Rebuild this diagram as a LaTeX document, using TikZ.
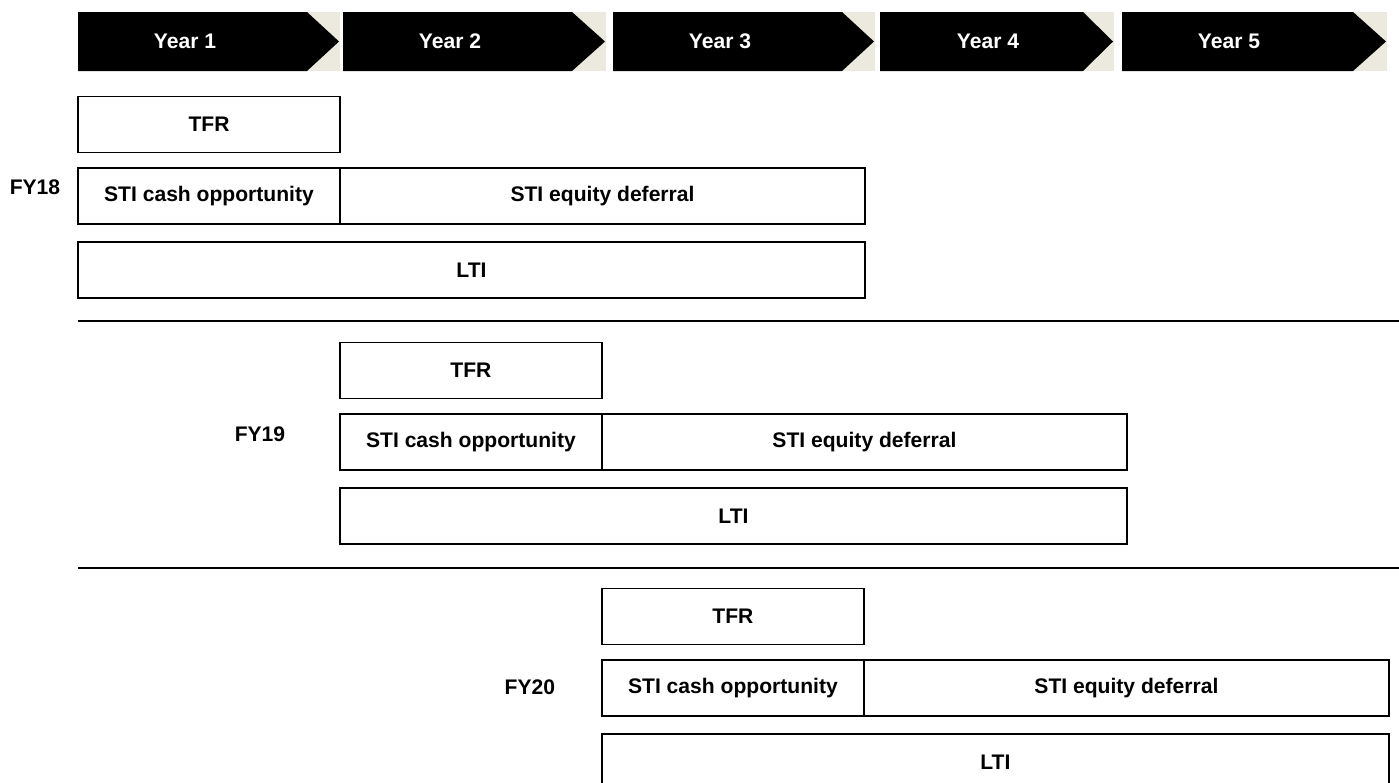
\documentclass[tikz,border=0pt]{standalone}
\usepackage{fontspec}
\setmainfont{Liberation Sans}
\usetikzlibrary{positioning}

\definecolor{tipbeige}{RGB}{236,233,223}

\tikzset{
  yearlbl/.style={text=white,font=\fontsize{12}{14}\selectfont\bfseries},
  paybox/.style={draw,line width=1pt,inner sep=0pt,outer sep=0pt,
    minimum height=1.12cm,font=\fontsize{12}{14}\selectfont\bfseries},
  fylbl/.style={font=\fontsize{12}{14}\selectfont\bfseries}
}

\begin{document}
\begin{tikzpicture}[x=0.02cm,y=-0.02cm]
  \useasboundingbox (0,0) rectangle (1399,782);
  % year chevrons: start / body end / tip / label centre
  \foreach \n/\s/\e/\t/\c in {1/78/307/339/185, 2/343/572/605/450,
      3/613/842/874/720, 4/880/1083/1113/988, 5/1122/1353/1386/1229}{
    \fill[tipbeige] (\e,12) rectangle (\t+1,71);
    \fill[black] (\s,12) -- (\e,12) -- (\t,41.5) -- (\e,71) -- (\s,71) -- cycle;
    \node[yearlbl] (year\n) at (\c,41.5) {Year \n};
  }
  % FY18
  \begin{scope}
    \node[paybox,minimum width=5.24cm] (tfr18) at (209,124.5) {TFR};
    \node[paybox,minimum width=5.24cm] (cash18) at (209,196) {STI cash opportunity};
    \node[paybox,minimum width=10.5cm] (defer18) at (602.5,196) {STI equity deferral};
    \node[paybox,minimum width=15.74cm] (lti18) at (471.5,270) {LTI};
    \node[fylbl] (fy18) at (35,187) {FY18};
  \end{scope}
  \draw[line width=1pt] (78,321) -- (1399,321);
  % FY19
  \begin{scope}[xshift=5.24cm,yshift=-4.92cm]
    \node[paybox,minimum width=5.24cm] (tfr19) at (209,124.5) {TFR};
    \node[paybox,minimum width=5.24cm] (cash19) at (209,196) {STI cash opportunity};
    \node[paybox,minimum width=10.5cm] (defer19) at (602.5,196) {STI equity deferral};
    \node[paybox,minimum width=15.74cm] (lti19) at (471.5,270) {LTI};
    \node[fylbl] (fy19) at (-2,188) {FY19};
  \end{scope}
  \draw[line width=1pt] (78,568) -- (1399,568);
  % FY20
  \begin{scope}[xshift=10.48cm,yshift=-9.84cm]
    \node[paybox,minimum width=5.24cm] (tfr20) at (209,124.5) {TFR};
    \node[paybox,minimum width=5.24cm] (cash20) at (209,196) {STI cash opportunity};
    \node[paybox,minimum width=10.5cm] (defer20) at (602.5,196) {STI equity deferral};
    \node[paybox,minimum width=15.74cm] (lti20) at (471.5,270) {LTI};
    \node[fylbl] (fy20) at (6,195) {FY20};
  \end{scope}
\end{tikzpicture}
\end{document}
